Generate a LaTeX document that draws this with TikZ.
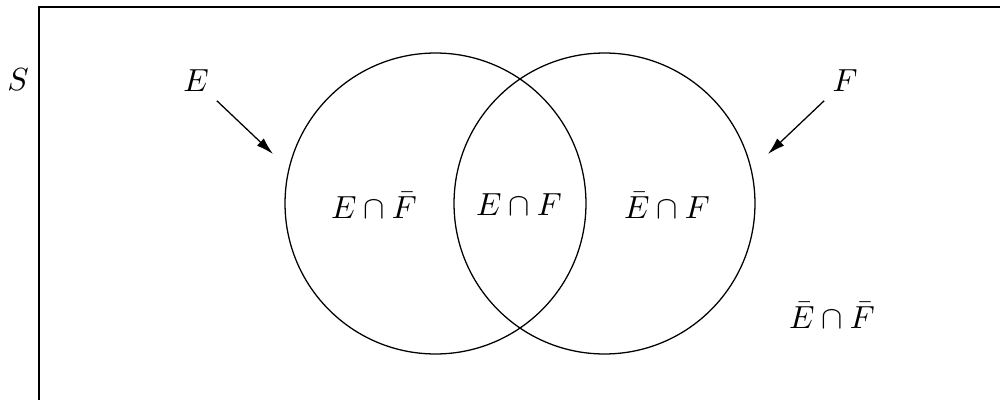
\documentclass[tikz,border=0pt]{standalone}
\usepackage{amsmath,amssymb}
\usepackage{tikz}
\usetikzlibrary{arrows.meta, positioning}

\begin{document}
\begin{tikzpicture}[
    x=0.011cm, y=-0.011cm,
    set/.style={circle, draw, minimum size=3.311cm, inner sep=0pt},
    lbl/.style={inner sep=1pt},
    pointer/.style={-{Latex[length=1.9mm, width=1.1mm]}, shorten <=0.8mm}
]
    \useasboundingbox (0,0) rectangle (1000,400);
    \clip (0,0) rectangle (1000,400);
    % sample space
    \draw[thick] (39,7) rectangle (1020,420);
    \node[lbl] (S) at (18,80) {$S$};
    % events
    \node[set] (circE) at (435.5,203.5) {};
    \node[set] (circF) at (604.5,203.5) {};
    \node[lbl] (E) at (196,81) {$E$};
    \node[lbl] (F) at (845,81) {$F$};
    \coordinate (tipE) at (273,154);
    \coordinate (tipF) at (768,154);
    \draw[pointer] (E) -- (tipE);
    \draw[pointer] (F) -- (tipF);
    % regions
    \node[lbl] (EnF) at (374,205) {$E \cap \bar{F}$};
    \node[lbl] (EF) at (519,205) {$E \cap F$};
    \node[lbl] (nEF) at (667,205) {$\bar{E} \cap F$};
    \node[lbl] (nEnF) at (832,315) {$\bar{E} \cap \bar{F}$};
\end{tikzpicture}
\end{document}
